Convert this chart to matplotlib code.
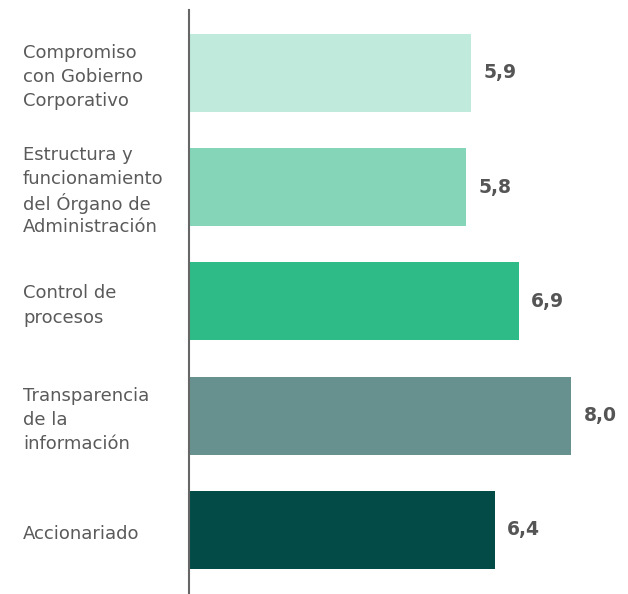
import matplotlib
matplotlib.use("Agg")
import matplotlib.pyplot as plt
from matplotlib.transforms import blended_transform_factory, offset_copy

categories = [
    "Compromiso\ncon Gobierno\nCorporativo",
    "Estructura y\nfuncionamiento\ndel Órgano de\nAdministración",
    "Control de\nprocesos",
    "Transparencia\nde la\ninformación",
    "Accionariado",
]
values = [5.9, 5.8, 6.9, 8.0, 6.4]
value_labels = ["5,9", "5,8", "6,9", "8,0", "6,4"]
colors = ["#c0eadb", "#85d6b9", "#2ebb88", "#66918f", "#024b47"]

plt.rcParams['font.family'] = ['DejaVu Sans']

fig = plt.figure(figsize=(6.28, 5.94), dpi=100)
ax = fig.add_axes([189 / 628, 0, 430 / 628, 584 / 594])

ypos = list(range(len(values)))
ax.barh(ypos, values, height=0.683, color=colors)

for y, v, lab in zip(ypos, values, value_labels):
    ax.annotate(lab, (v, y), xytext=(9, 0), textcoords="offset points",
                va="center", ha="left", fontsize=13.5, fontweight="bold", color="#555555")

# category labels, left aligned at the figure's left margin,
# one text per line so accents don't stretch the spacing
tr = blended_transform_factory(fig.transFigure, ax.transData)
line_h = 17.3  # points
for y, c in zip(ypos, categories):
    lines = c.split("\n")
    n = len(lines)
    for i, line in enumerate(lines):
        dy = ((n - 1) / 2 - i) * line_h - 1.5
        t = offset_copy(tr, fig=fig, x=0, y=dy, units="points")
        ax.text(23 / 628, y, line, transform=t, ha="left", va="center_baseline",
                fontsize=13, color="#5a5a5a")

ax.set_xlim(0, 9)
ax.set_ylim(4.56, -0.55)
ax.set_xticks([])
ax.set_yticks([])
for s in ["top", "right", "bottom"]:
    ax.spines[s].set_visible(False)
ax.spines["left"].set_color("#666666")
ax.spines["left"].set_linewidth(1.5)

fig.savefig("out.png", dpi=100)
